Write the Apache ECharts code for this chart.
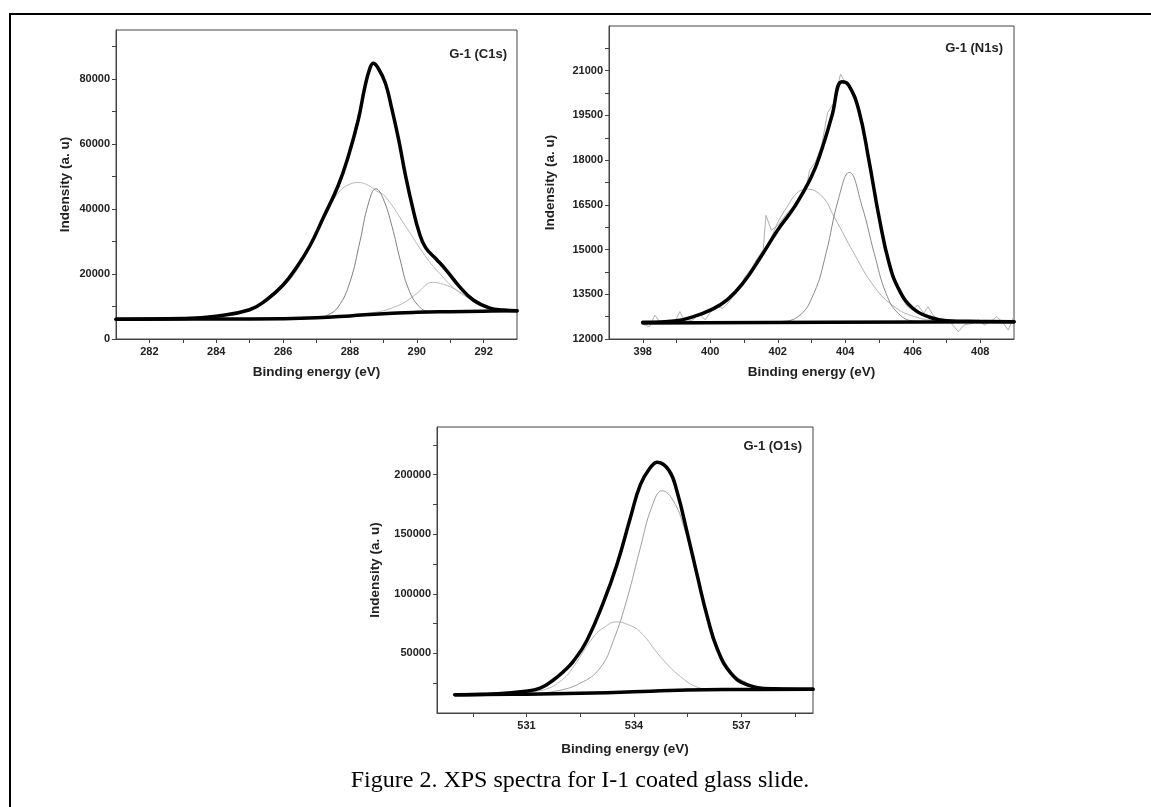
<!DOCTYPE html>
<html>
<head>
<meta charset="utf-8">
<script src="https://cdn.jsdelivr.net/npm/echarts@6.0.0/dist/echarts.min.js"></script>
<style>
  html, body { margin: 0; padding: 0; background: #fff; }
  #chart { width: 1151px; height: 807px; }
</style>
</head>
<body>
<div id="chart"></div>
<script type="text/javascript">

// ---- C1s panel ----
const c1sBgX  = [281, 284, 286, 287, 288, 289, 290, 291, 292, 293];
const c1sBgY  = [6100, 6150, 6250, 6500, 7100, 7800, 8200, 8400, 8550, 8650];
const c1sEnvX = [281, 283, 284, 285, 285.5, 286, 286.4, 286.8, 287.2, 287.65, 287.95, 288.25, 288.45, 288.6, 288.7, 288.85, 289.06, 289.26, 289.46, 289.67, 289.87, 290.07, 290.27, 290.58, 290.88, 291.28, 291.69, 292.19, 292.6, 293];
const c1sEnvY = [6100, 6300, 7000, 9000, 12000, 16600, 22000, 28600, 37200, 47200, 56100, 67400, 77600, 83300, 84800, 83200, 78700, 70500, 61200, 49900, 40700, 32800, 28000, 24600, 21200, 16100, 12000, 9500, 8900, 8650];
const c1sP1X  = [285, 286, 286.8, 287.3, 287.7, 288.0, 288.25, 288.5, 288.8, 289.06, 289.67, 290.27, 290.68, 291.18, 291.69, 292.29, 293];
const c1sP1Y  = [8800, 16000, 28000, 39000, 45500, 47600, 48100, 47500, 45500, 43800, 34600, 25300, 20200, 15100, 12000, 9400, 8650];
const c1sP2X  = [287.0, 287.3, 287.65, 288.0, 288.3, 288.55, 288.78, 289.0, 289.26, 289.5, 289.75, 290.07, 290.4, 291];
const c1sP2Y  = [6500, 7200, 9900, 17500, 30000, 41500, 46200, 43000, 34600, 24500, 15500, 10000, 8400, 8300];
const c1sP3X  = [288.0, 288.86, 289.3, 289.67, 290.0, 290.47, 290.8, 291.2, 291.7, 292.2, 292.7];
const c1sP3Y  = [7300, 8400, 9700, 11500, 14000, 17400, 16800, 15000, 11500, 9400, 8700];

// ---- N1s panel ----
const n1sBgX  = [398, 403.5, 409];
const n1sBgY  = [12540, 12560, 12580];
const n1sRawX = [398.06, 398.2, 398.36, 398.54, 398.77, 398.95, 399.1, 399.25, 399.49, 399.67, 399.85, 400.02, 400.2, 400.38, 400.56, 400.74, 400.86, 401.04, 401.21, 401.39, 401.57, 401.65, 401.81, 401.99, 402.23, 402.46, 402.7, 402.88, 402.94, 403.12, 403.3, 403.48, 403.65, 403.86, 403.95, 404.13, 404.4, 404.7, 405.0, 405.3, 405.6, 405.8, 405.98, 406.15, 406.33, 406.45, 406.63, 406.87, 407.1, 407.35, 407.52, 407.76, 407.94, 408.12, 408.3, 408.48, 408.65, 408.83, 408.99];
const n1sRawY = [12470, 12410, 12800, 12525, 12640, 12580, 12920, 12580, 12640, 12860, 12640, 12920, 13085, 13030, 13250, 13530, 13755, 14100, 14350, 14700, 15000, 16150, 15650, 15800, 16150, 16450, 16900, 17250, 17650, 17950, 18500, 19600, 19900, 20890, 20690, 20410, 19650, 17950, 16150, 14500, 13650, 13140, 12970, 13140, 12860, 13085, 12750, 12640, 12580, 12245, 12470, 12525, 12640, 12470, 12580, 12750, 12580, 12300, 12750];
const n1sEnvX = [398, 399, 399.5, 400, 400.5, 401, 401.5, 402, 402.5, 403, 403.3, 403.6, 403.9, 404.1, 404.4, 404.7, 405, 405.3, 405.6, 406, 406.5, 407, 408, 409];
const n1sEnvY = [12560, 12615, 12750, 12970, 13310, 13920, 14760, 15660, 16440, 17450, 18340, 19460, 20630, 20520, 19680, 18000, 16100, 14540, 13640, 13030, 12730, 12615, 12590, 12580];
const n1sP1X  = [398.5, 399.5, 400.5, 401.5, 402.2, 402.86, 403.3, 403.67, 404.26, 404.86, 405.45, 406.05, 406.7, 407.5];
const n1sP1Y  = [12600, 12740, 13280, 14700, 16300, 17030, 16800, 16100, 14870, 13755, 13085, 12750, 12615, 12570];
const n1sP2X  = [401.5, 402.0, 402.6, 403.07, 403.43, 403.79, 404.12, 404.5, 404.86, 405.21, 405.57, 406.05, 406.8];
const n1sP2Y  = [12560, 12580, 12750, 13530, 14870, 16660, 17590, 16440, 14870, 13530, 12860, 12600, 12570];

// ---- O1s panel ----
const o1sBgX  = [529, 531, 532.5, 534, 535, 536, 537, 539];
const o1sBgY  = [15300, 15800, 16500, 17800, 18900, 19500, 19700, 19900];
const o1sEnvX = [529, 530.2, 530.91, 531.38, 531.75, 532.03, 532.31, 532.69, 533.15, 533.53, 533.9, 534.18, 534.46, 534.65, 534.98, 535.21, 535.49, 535.77, 536.05, 536.33, 536.71, 537.17, 537.92, 539];
const o1sEnvY = [15300, 16200, 18000, 20800, 27700, 34700, 43500, 61100, 93000, 125000, 163800, 191700, 206000, 210500, 203500, 185000, 151000, 115000, 80500, 53500, 33300, 23600, 20300, 19900];
const o1sP1X  = [530.5, 531.47, 532.0, 532.31, 532.87, 533.2, 533.51, 533.85, 534.18, 534.74, 535.3, 535.86, 536.4, 537];
const o1sP1Y  = [16000, 19400, 28000, 38800, 63800, 72500, 76500, 74000, 68000, 47200, 30500, 20800, 18800, 19000];
const o1sP2X  = [531.0, 531.75, 532.5, 533.06, 533.43, 533.81, 534.18, 534.5, 534.79, 535.1, 535.4, 535.77, 536.15, 536.61, 537.17, 537.9];
const o1sP2Y  = [16000, 18000, 25000, 38000, 61100, 96000, 138800, 173000, 186500, 178000, 155500, 113800, 72200, 39500, 25000, 20000];

// ---- axis ticks / labels ----
const c1sXLabels = [282, 284, 286, 288, 290, 292];
const c1sXTicks  = [282, 283, 284, 285, 286, 287, 288, 289, 290, 291, 292];
const c1sYLabels = [0, 20000, 40000, 60000, 80000];
const c1sYTicks  = [0, 10000, 20000, 30000, 40000, 50000, 60000, 70000, 80000, 90000];
const n1sXLabels = [398, 400, 402, 404, 406, 408];
const n1sXTicks  = [398, 399, 400, 401, 402, 403, 404, 405, 406, 407, 408];
const n1sYLabels = [12000, 13500, 15000, 16500, 18000, 19500, 21000];
const n1sYTicks  = [12000, 12750, 13500, 14250, 15000, 15750, 16500, 17250, 18000, 18750, 19500, 20250, 21000, 21750];
const o1sXLabels = [531, 534, 537];
const o1sXTicks  = [529.5, 531, 532.5, 534, 535.5, 537, 538.5];
const o1sYLabels = [50000, 100000, 150000, 200000];
const o1sYTicks  = [25000, 50000, 75000, 100000, 125000, 150000, 175000, 200000, 225000];

const panelTitles = ['G-1 (C1s)', 'G-1 (N1s)', 'G-1 (O1s)'];
const caption = 'Figure 2. XPS spectra for I-1 coated glass slide.';

function zip(xs, ys) {
  return xs.map(function (x, i) { return [x, ys[i]]; });
}

const FONT = '"Liberation Sans", Arial, sans-serif';

function xAxis(idx, min, max, ticks, labels, gap) {
  return {
    type: 'value', gridIndex: idx, min: min, max: max,
    name: 'Binding energy (eV)', nameLocation: 'middle', nameGap: gap,
    nameTextStyle: { fontFamily: FONT, fontWeight: 'bold', fontSize: 13.5, color: '#222' },
    axisLine: { show: true, onZero: false, lineStyle: { color: '#444', width: 1 } },
    axisTick: { show: true, inside: false, length: 4, customValues: ticks, lineStyle: { color: '#444' } },
    axisLabel: { customValues: labels, margin: 7, fontFamily: FONT, fontWeight: 'bold', fontSize: 11, color: '#222',
      formatter: function (v) { return String(v); } },
    splitLine: { show: false }
  };
}

function yAxis(idx, min, max, ticks, labels, gap) {
  return {
    type: 'value', gridIndex: idx, min: min, max: max,
    name: 'Indensity (a. u)', nameLocation: 'middle', nameGap: gap, nameRotate: 90,
    nameTextStyle: { fontFamily: FONT, fontWeight: 'bold', fontSize: 13.5, color: '#222' },
    axisLine: { show: true, onZero: false, lineStyle: { color: '#444', width: 1 } },
    axisTick: { show: true, inside: false, length: 4, customValues: ticks, lineStyle: { color: '#444' } },
    axisLabel: { customValues: labels, margin: 6, fontFamily: FONT, fontWeight: 'bold', fontSize: 11, color: '#222',
      formatter: function (v) { return String(v); } },
    splitLine: { show: false }
  };
}

function line(idx, xs, ys, color, width, smooth) {
  return {
    type: 'line', xAxisIndex: idx, yAxisIndex: idx,
    data: zip(xs, ys), showSymbol: false, symbol: 'none',
    smooth: smooth,
    lineStyle: { color: color, width: width, join: 'round', cap: 'round' },
    silent: true, animation: false
  };
}

const chart = echarts.init(document.getElementById('chart'), null, { renderer: 'canvas' });

const option = {
  backgroundColor: '#fff',
  animation: false,
  grid: [
    { left: 116, top: 30, width: 401, height: 309, show: true, borderColor: '#444', borderWidth: 1 },
    { left: 609, top: 26, width: 405, height: 313, show: true, borderColor: '#444', borderWidth: 1 },
    { left: 437, top: 427, width: 376, height: 286, show: true, borderColor: '#444', borderWidth: 1 }
  ],
  xAxis: [
    xAxis(0, 281, 293, c1sXTicks, c1sXLabels, 26),
    xAxis(1, 397, 409, n1sXTicks, n1sXLabels, 26),
    xAxis(2, 528.5, 539, o1sXTicks, o1sXLabels, 29)
  ],
  yAxis: [
    yAxis(0, 0, 95000, c1sYTicks, c1sYLabels, 44),
    yAxis(1, 12000, 22500, n1sYTicks, n1sYLabels, 52),
    yAxis(2, 0, 240000, o1sYTicks, o1sYLabels, 55)
  ],
  series: [
    line(0, c1sP1X, c1sP1Y, '#b8b8b8', 1, 0.45),
    line(0, c1sP3X, c1sP3Y, '#b8b8b8', 1, 0.45),
    line(0, c1sP2X, c1sP2Y, '#808080', 1, 0.45),
    line(0, c1sBgX, c1sBgY, '#000', 3.5, 0.45),
    line(0, c1sEnvX, c1sEnvY, '#000', 3.5, 0.45),

    line(1, n1sRawX, n1sRawY, '#b0b0b0', 1, false),
    line(1, n1sP1X, n1sP1Y, '#b0b0b0', 1, 0.45),
    line(1, n1sP2X, n1sP2Y, '#8a8a8a', 1, 0.45),
    line(1, n1sBgX, n1sBgY, '#000', 3.5, false),
    line(1, n1sEnvX, n1sEnvY, '#000', 3.5, 0.45),

    line(2, o1sP1X, o1sP1Y, '#b8b8b8', 1, 0.45),
    line(2, o1sP2X, o1sP2Y, '#a0a0a0', 1, 0.45),
    line(2, o1sBgX, o1sBgY, '#000', 3.5, 0.45),
    line(2, o1sEnvX, o1sEnvY, '#000', 3.5, 0.45)
  ],
  graphic: [
    { type: 'polyline', silent: true, shape: { points: [[10, 807], [10, 14], [1151, 14]] },
      style: { stroke: '#000', lineWidth: 2, fill: null } },
    { type: 'text', x: 507, y: 54, silent: true,
      style: { text: panelTitles[0], align: 'right', verticalAlign: 'middle', font: 'bold 13px "Liberation Sans", Arial, sans-serif', fill: '#222' } },
    { type: 'text', x: 1003, y: 48, silent: true,
      style: { text: panelTitles[1], align: 'right', verticalAlign: 'middle', font: 'bold 13px "Liberation Sans", Arial, sans-serif', fill: '#222' } },
    { type: 'text', x: 802, y: 446, silent: true,
      style: { text: panelTitles[2], align: 'right', verticalAlign: 'middle', font: 'bold 13px "Liberation Sans", Arial, sans-serif', fill: '#222' } },
    { type: 'text', x: 580, y: 781, silent: true,
      style: { text: caption, align: 'center', verticalAlign: 'middle', font: '24px "Liberation Serif", "Times New Roman", serif', fill: '#000' } }
  ]
};

chart.setOption(option);
window.onresize = function () { chart.resize(); };
</script>
</body>
</html>
